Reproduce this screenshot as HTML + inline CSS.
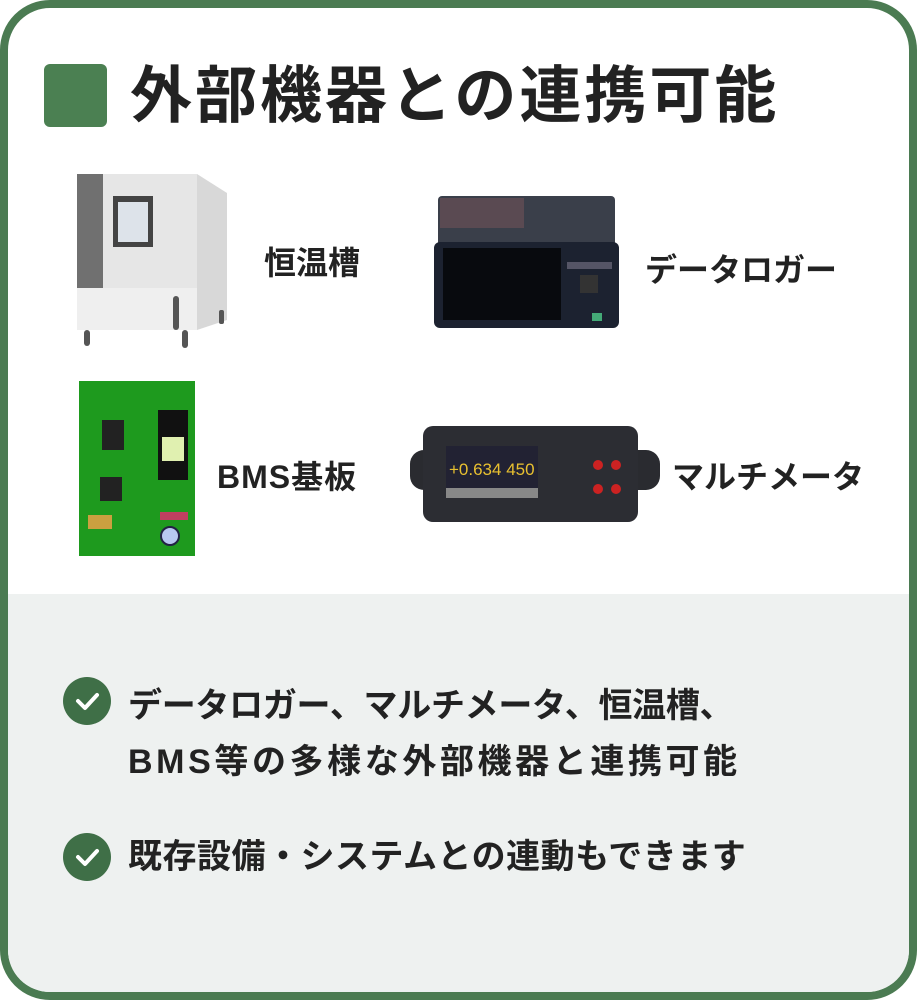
<!DOCTYPE html>
<html><head><meta charset="utf-8"><style>
body{margin:0;width:917px;height:1000px;background:#fff;font-family:"Liberation Sans","Noto Sans CJK JP",sans-serif;}
.card{position:absolute;left:0;top:0;width:901px;height:984px;border:8px solid #4b7b52;border-radius:50px;overflow:hidden;background:#fff;}
.bottom{position:absolute;left:0;top:586px;width:100%;height:400px;background:#eef1f0;}
.t{position:absolute;color:#222;white-space:nowrap;}
.chk{position:absolute;width:48px;height:48px;border-radius:50%;background:#3f6f47;}
</style></head><body>
<div class="card">
<div class="bottom"></div>
</div>
<div style="position:absolute;left:44px;top:64px;width:63px;height:63px;background:#4b8052;border-radius:6px"></div>
<div class="t" style="left:130px;top:62px;font-size:62px;font-weight:bold;letter-spacing:3px;line-height:70px">外部機器との連携可能</div>

<svg style="position:absolute;left:0;top:0" width="917" height="600">
<rect x="77" y="174" width="120" height="155" fill="#e6e6e6"/>
<rect x="77" y="174" width="26" height="114" fill="#707070"/>
<polygon points="197,174 227,193 227,320 197,330" fill="#d8d8d8"/>
<rect x="77" y="288" width="120" height="42" fill="#efefef"/>
<rect x="113" y="196" width="40" height="51" fill="#444"/>
<rect x="118" y="202" width="30" height="40" fill="#dde3ea"/>
<rect x="173" y="296" width="6" height="34" rx="3" fill="#555"/>
<rect x="84" y="330" width="6" height="16" rx="3" fill="#555"/>
<rect x="182" y="330" width="6" height="18" rx="3" fill="#555"/>
<rect x="219" y="310" width="5" height="14" rx="2" fill="#555"/>
<rect x="438" y="196" width="177" height="50" rx="4" fill="#3a3f4a"/>
<rect x="440" y="198" width="84" height="30" fill="#5a4a52"/>
<rect x="434" y="242" width="185" height="86" rx="6" fill="#1c2230"/>
<rect x="443" y="248" width="118" height="72" fill="#080a0e"/>
<rect x="567" y="262" width="45" height="7" fill="#556"/>
<rect x="580" y="275" width="18" height="18" fill="#333"/>
<rect x="592" y="313" width="10" height="8" fill="#4a7"/>
<rect x="79" y="381" width="116" height="175" fill="#1e9a1e"/>
<rect x="102" y="420" width="22" height="30" fill="#222"/>
<rect x="100" y="477" width="22" height="24" fill="#222"/>
<rect x="158" y="410" width="30" height="70" fill="#111"/>
<rect x="162" y="437" width="22" height="24" fill="#e0f0b0"/>
<rect x="160" y="512" width="28" height="8" fill="#c04060"/>
<circle cx="170" cy="536" r="9" fill="#b8c8f0" stroke="#224" stroke-width="2"/>
<rect x="88" y="515" width="24" height="14" fill="#caa040"/>
<rect x="410" y="450" width="250" height="40" rx="14" fill="#2a2b30"/>
<rect x="423" y="426" width="215" height="96" rx="10" fill="#2c2d33"/>
<rect x="446" y="446" width="92" height="42" fill="#223"/>
<text x="449" y="475" font-family="Liberation Sans" font-size="17" fill="#e8c030">+0.634 450</text>
<rect x="446" y="488" width="92" height="10" fill="#888"/>
<circle cx="598" cy="465" r="5" fill="#c22"/><circle cx="616" cy="465" r="5" fill="#c22"/>
<circle cx="598" cy="489" r="5" fill="#c22"/><circle cx="616" cy="489" r="5" fill="#c22"/>
</svg>

<div class="t" style="left:264px;top:238px;font-size:32px;font-weight:bold">恒温槽</div>
<div class="t" style="left:645px;top:245px;font-size:32px;font-weight:bold">データロガー</div>
<div class="t" style="left:217px;top:452px;font-size:32px;font-weight:bold;letter-spacing:1px">BMS基板</div>
<div class="t" style="left:672px;top:452px;font-size:32px;font-weight:bold">マルチメータ</div>

<div class="chk" style="left:63px;top:677px"></div>
<div class="chk" style="left:63px;top:833px"></div>
<svg style="position:absolute;left:63px;top:677px" width="48" height="48"><polyline points="15,24 22,31 34,18" fill="none" stroke="#fff" stroke-width="4" stroke-linecap="round" stroke-linejoin="round"/></svg>
<svg style="position:absolute;left:63px;top:833px" width="48" height="48"><polyline points="15,24 22,31 34,18" fill="none" stroke="#fff" stroke-width="4" stroke-linecap="round" stroke-linejoin="round"/></svg>
<div class="t" style="left:128px;top:678px;font-size:34px;font-weight:bold;line-height:56px;letter-spacing:-0.3px">データロガー、マルチメータ、恒温槽、</div>
<div class="t" style="left:128px;top:734px;font-size:34px;font-weight:bold;line-height:56px;letter-spacing:3.6px">BMS等の多様な外部機器と連携可能</div>
<div class="t" style="left:128px;top:836px;font-size:34px;font-weight:bold;line-height:42px;letter-spacing:0.5px">既存設備・システムとの連動もできます</div>
</body></html>
